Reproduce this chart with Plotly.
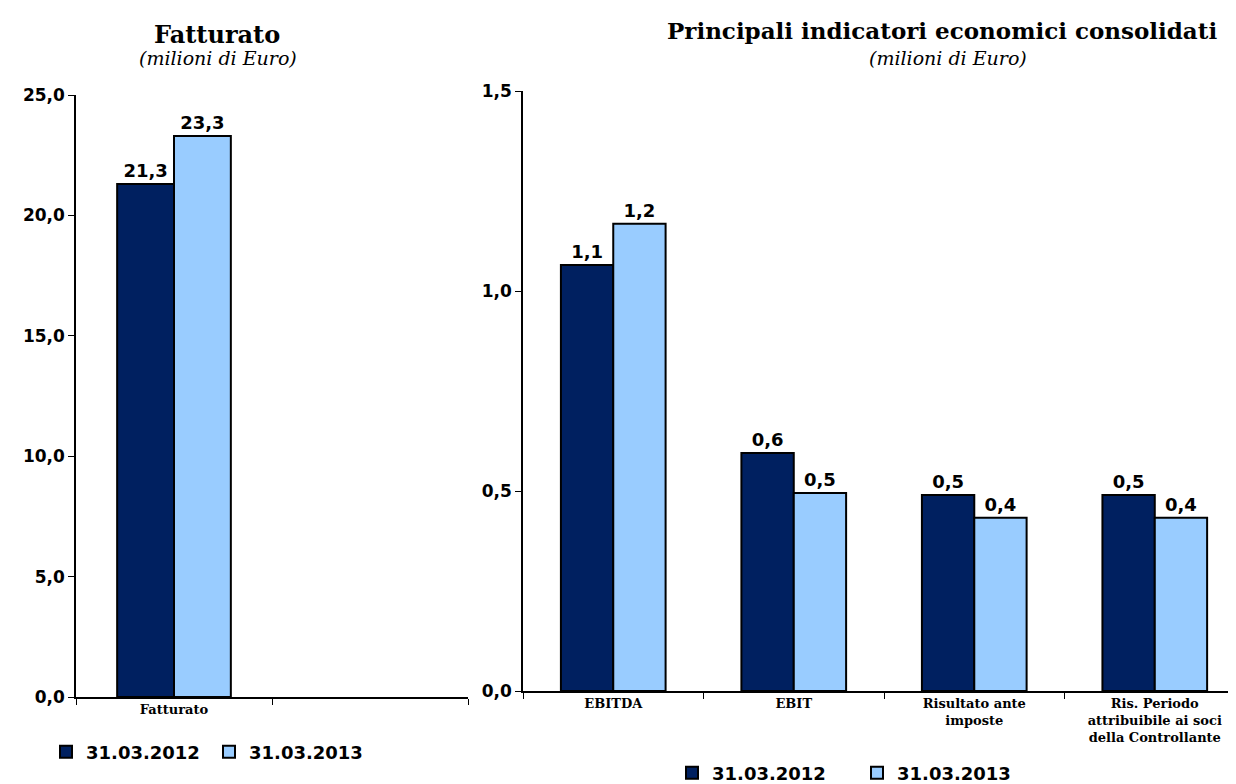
import plotly.graph_objects as go

# ---- data ----
series_names = ["31.03.2012", "31.03.2013"]
left_categories = ["Fatturato", " "]
left_2012 = [21.3]
left_2013 = [23.3]

right_categories = ["EBITDA", "EBIT", "Risultato ante<br>imposte",
                    "Ris. Periodo<br>attribuibile ai soci<br>della Controllante"]
right_2012 = [1.065, 0.595, 0.49, 0.49]
right_2013 = [1.168, 0.495, 0.433, 0.433]

left_ticks = [0, 5, 10, 15, 20, 25]
right_ticks = [0, 0.5, 1.0, 1.5]

# ---- style / geometry ----
DARK = "#002060"
LIGHT = "#99CCFF"
SANS = "DejaVu Sans"
SERIF = "DejaVu Serif"
OFF = 8            # page body margin
W, H = 1236 - OFF, 784 - OFF

def px(x):
    return (x - OFF) / W

def py(y):
    return 1 - (y - OFF) / H

fig = go.Figure()

def add_bar(x, y, color, name, xa, ya, legend):
    fig.add_trace(go.Bar(
        x=x, y=y, name=name, xaxis=xa, yaxis=ya, legend=legend,
        marker=dict(color=color, line=dict(color="black", width=2)),
        texttemplate="<b>%{y:.1f}</b>", textposition="outside", cliponaxis=False,
        textfont=dict(family=SANS, size=18, color="black"),
        hoverinfo="skip",
    ))

add_bar([left_categories[0]], left_2012, DARK, series_names[0], "x", "y", "legend")
add_bar([left_categories[0]], left_2013, LIGHT, series_names[1], "x", "y", "legend")
add_bar(right_categories, right_2012, DARK, series_names[0], "x2", "y2", "legend2")
add_bar(right_categories, right_2013, LIGHT, series_names[1], "x2", "y2", "legend2")

axis_common = dict(showline=True, linecolor="black", linewidth=1.5, showgrid=False,
                   zeroline=False, ticks="outside", tickcolor="black", ticklen=6,
                   automargin=False)

fig.update_layout(
    width=W, height=H,
    margin=dict(l=0, r=0, t=0, b=0, autoexpand=False),
    paper_bgcolor="white", plot_bgcolor="white",
    separators=",.",
    barmode="group", bargap=0.42, bargroupgap=0,
    xaxis=dict(domain=[px(76), px(468)], anchor="y", type="category",
               categoryorder="array", categoryarray=left_categories,
               range=[-0.5, 1.5], tickson="boundaries",
               tickfont=dict(family=SERIF, size=13, color="black", weight="bold"),
               **axis_common),
    yaxis=dict(domain=[py(697), py(95)], anchor="x", range=[0, 25],
               tickvals=left_ticks, tickformat=".1f",
               tickfont=dict(family=SANS, size=17, color="black", weight="bold"),
               **axis_common),
    xaxis2=dict(domain=[px(523), 1.0], anchor="y2", type="category",
                categoryorder="array", categoryarray=right_categories,
                range=[-0.5, 3.45], tickson="boundaries",
                tickfont=dict(family=SERIF, size=13, color="black", weight="bold"),
                **axis_common),
    yaxis2=dict(domain=[py(691), py(91)], anchor="x2", range=[0, 1.5],
                tickvals=right_ticks, tickformat=".1f",
                tickfont=dict(family=SANS, size=17, color="black", weight="bold"),
                **axis_common),
    legend=dict(orientation="h", x=px(46), y=py(752), xanchor="left", yanchor="middle",
                font=dict(family=SANS, size=18, color="black", weight="bold"),
                itemwidth=30, entrywidth=118, bgcolor="rgba(0,0,0,0)"),
    legend2=dict(orientation="h", x=px(672), y=py(773), xanchor="left", yanchor="middle",
                 font=dict(family=SANS, size=18, color="black", weight="bold"),
                 itemwidth=30, entrywidth=140, bgcolor="rgba(0,0,0,0)"),
    annotations=[
        dict(text="<b>Fatturato</b>", x=px(217), y=py(35), xref="paper", yref="paper",
             xanchor="center", yanchor="middle", showarrow=False,
             font=dict(family=SERIF, size=24, color="black")),
        dict(text="<i>(milioni di Euro)</i>", x=px(218), y=py(58), xref="paper", yref="paper",
             xanchor="center", yanchor="middle", showarrow=False,
             font=dict(family=SERIF, size=19, color="black")),
        dict(text="<b>Principali indicatori economici consolidati</b>", x=px(942), y=py(30),
             xref="paper", yref="paper", xanchor="center", yanchor="middle", showarrow=False,
             font=dict(family=SERIF, size=23, color="black")),
        dict(text="<i>(milioni di Euro)</i>", x=px(948), y=py(58), xref="paper", yref="paper",
             xanchor="center", yanchor="middle", showarrow=False,
             font=dict(family=SERIF, size=19, color="black")),
    ],
)

fig.write_html("out.html")
